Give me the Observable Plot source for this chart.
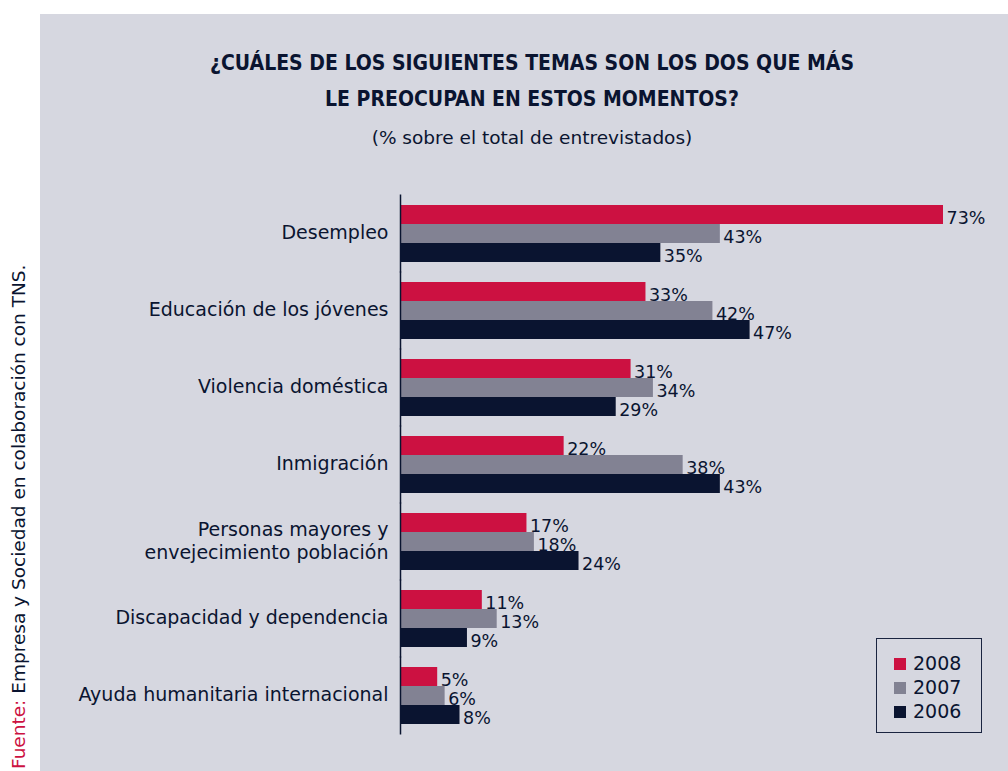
<!DOCTYPE html>
<html><head><meta charset="utf-8">
<script src="https://cdn.jsdelivr.net/npm/d3@7"></script>
<script src="https://cdn.jsdelivr.net/npm/@observablehq/plot@0.6"></script>
<style>
html,body{margin:0;padding:0;background:#fff;}
#wrap{position:relative;width:1008px;height:771px;overflow:hidden;background:#fff;font-family:"DejaVu Sans",sans-serif;color:#0a1430;}
#panel{position:absolute;left:40px;top:14px;width:968px;height:757px;background:#d6d7e0;}
.t{position:absolute;left:40px;width:984px;text-align:center;white-space:nowrap;}
#t1{top:51px;font-family:"DejaVu Sans Condensed","DejaVu Sans",sans-serif;font-weight:bold;font-size:21px;}
#t2{top:87px;font-family:"DejaVu Sans Condensed","DejaVu Sans",sans-serif;font-weight:bold;font-size:21px;}
#t3{top:127px;font-size:18.5px;}
#chart{position:absolute;left:0;top:0;}
#legend{position:absolute;left:876px;top:638px;width:106px;height:95px;border:1.5px solid #1a2440;box-sizing:border-box;}
.li{position:absolute;left:17px;font-size:19px;line-height:20px;}
.li span{display:inline-block;width:12px;height:12px;margin-right:7px;vertical-align:0px;}
#src{position:absolute;left:18px;top:769px;transform-origin:0 0;transform:rotate(-90deg) translate(0,-50%);white-space:nowrap;font-size:18.5px;}
</style></head>
<body><div id="wrap">
<div id="panel"></div>
<div class="t" id="t1"></div>
<div class="t" id="t2"></div>
<div class="t" id="t3"></div>
<div id="chart"></div>
<div id="legend"></div>
<div id="src"></div>
</div>
<script>
const title1 = "¿CUÁLES DE LOS SIGUIENTES TEMAS SON LOS DOS QUE MÁS";
const title2 = "LE PREOCUPAN EN ESTOS MOMENTOS?";
const subtitle = "(% sobre el total de entrevistados)";
const sourceLabel = "Fuente:";
const sourceText = " Empresa y Sociedad en colaboración con TNS.";
const categories = ["Desempleo","Educación de los jóvenes","Violencia doméstica","Inmigración","Personas mayores y\nenvejecimiento población","Discapacidad y dependencia","Ayuda humanitaria internacional"];
const years = ["2008","2007","2006"];
const colors = ["#cc1141","#828293","#0a1430"];
const v2008 = [73,33,31,22,17,11,5];
const v2007 = [43,42,34,38,18,13,6];
const v2006 = [35,47,29,43,24,9,8];

document.getElementById("t1").textContent = title1;
document.getElementById("t2").textContent = title2;
document.getElementById("t3").textContent = subtitle;
const src = document.getElementById("src");
const s1 = document.createElement("span"); s1.style.color="#cc1141"; s1.textContent = sourceLabel;
const s2 = document.createElement("span"); s2.textContent = sourceText;
src.append(s1, s2);

const series = [v2008, v2007, v2006];
const data = [];
categories.forEach((c,i)=>years.forEach((y,j)=>data.push({cat:c, year:y, value:series[j][i]})));

const leg = document.getElementById("legend");
years.forEach((y,j)=>{
  const d = document.createElement("div"); d.className="li"; d.style.top = (14+j*24)+"px";
  const sw = document.createElement("span"); sw.style.background = colors[j];
  d.append(sw, document.createTextNode(y)); leg.append(d);
});

const chart = Plot.plot({
  width:1008, height:771,
  marginLeft:400, marginRight:65, marginTop:194, marginBottom:37,
  style:{background:"transparent", fontFamily:"DejaVu Sans, sans-serif", color:"#0a1430"},
  x:{domain:[0,73], axis:null},
  fy:{domain:categories, paddingInner:0.26, paddingOuter:0.13, label:null},
  y:{domain:years, padding:0, axis:null},
  color:{domain:years, range:colors},
  marks:[
    Plot.barX(data,{x:"value", y:"year", fy:"cat", fill:"year"}),
    Plot.text(data,{x:"value", y:"year", fy:"cat", text:d=>d.value+"%", textAnchor:"start", dx:3, dy:3, fontSize:17.5, fill:"#0a1430"}),
    Plot.axisFy({anchor:"left", tickSize:0, tickPadding:12, fontSize:19, label:null, lineHeight:1.2, dy:-2}),
    Plot.ruleX([0],{stroke:"#0a1430", strokeWidth:1.5, insetTop:-10.5, insetBottom:-10.5})
  ]
});
document.getElementById("chart").append(chart);
</script>
</body></html>
